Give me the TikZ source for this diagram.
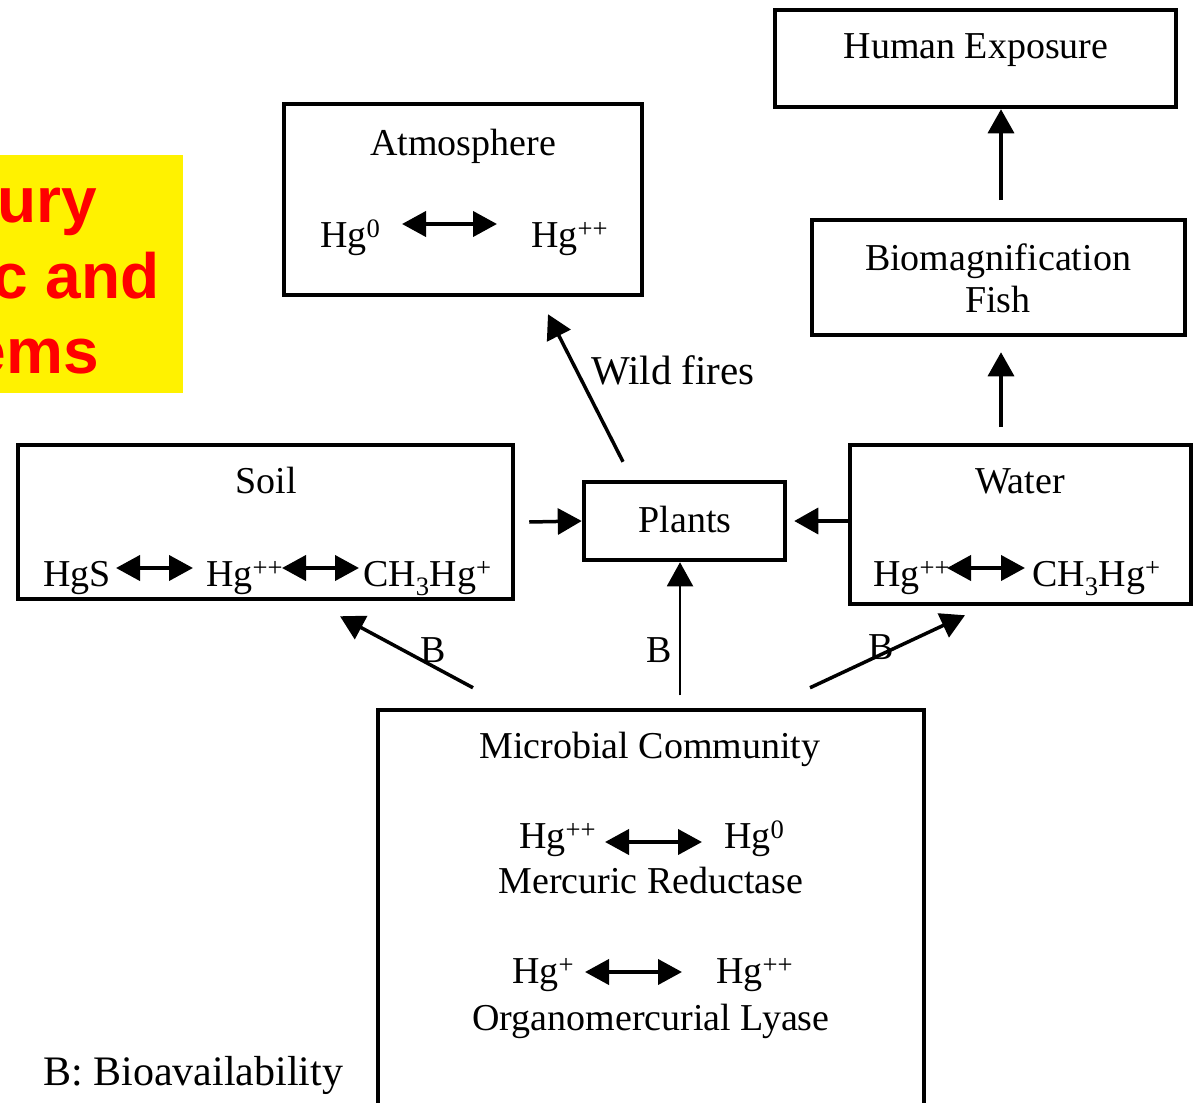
\documentclass[tikz,border=0pt]{standalone}
\usepackage{fontspec}
\setmainfont{Liberation Serif}
\newfontfamily\titlefont{Liberation Sans}
\usetikzlibrary{arrows.meta}
\begin{document}
\begin{tikzpicture}[x=1pt,y=-1pt,
  box/.style={draw, line width=4.5pt, inner sep=0pt},
  lbl/.style={font=\rmfamily\fontsize{38}{42}\selectfont, inner sep=0pt, anchor=base},
  spc/.style={lbl, anchor=base west},
  ttl/.style={font=\titlefont\bfseries\fontsize{64}{70}\selectfont, text=red, inner sep=0pt, anchor=base east},
  conn/.style={line width=3.5pt, -{Triangle[length=24pt,width=26pt]}},
  thinconn/.style={line width=2pt, -{Triangle[length=24pt,width=26pt]}},
  dbl/.style={line width=4pt, {Triangle[length=24pt,width=25pt]}-{Triangle[length=24pt,width=25pt]}}
]
\clip (0,0) rectangle (1195,1103);
\fill[white] (0,0) rectangle (1195,1103);

% title fragment
\fill[yellow] (0,155) rectangle (183,393);
\node[ttl] (t1) at (97,222) {ury};
\node[ttl] (t2) at (160,298) {c and};
\node[ttl] (t3) at (99,373) {ems};

% boxes
\node[box, minimum width=401pt, minimum height=97pt] (human) at (975.5,58.5) {};
\node[box, minimum width=358pt, minimum height=191pt] (atmo) at (463,199.5) {};
\node[box, minimum width=373pt, minimum height=115pt] (bio) at (998.5,277.5) {};
\node[box, minimum width=495pt, minimum height=154pt] (soil) at (265.5,522) {};
\node[box, minimum width=201pt, minimum height=78pt] (plants) at (684.5,521) {};
\node[box, minimum width=341pt, minimum height=159pt] (water) at (1020.5,524.5) {};
\node[box, minimum width=546pt, minimum height=420pt] (micro) at (651,920) {};

% texts
\node[lbl] (humant) at (976,58) {Human Exposure};
\node[lbl] (atmot) at (463,155) {Atmosphere};
\node[spc] (a1) at (320,247) {Hg\textsuperscript{0}};
\node[spc] (a2) at (531,247) {Hg\textsuperscript{++}};
\coordinate (a1r) at (402,224);
\coordinate (a2l) at (497,224);
\draw[dbl] (a1r) -- (a2l);

\node[lbl] (biot) at (998,270) {Biomagnification};
\node[lbl] (fisht) at (998,312) {Fish};

\node[lbl] (soilt) at (266,493) {Soil};
\node[spc] (s1) at (43,586) {HgS};
\node[spc] (s2) at (206,586) {Hg\textsuperscript{++}};
\node[spc] (s3) at (363,586) {CH\textsubscript{3}Hg\textsuperscript{+}};
\coordinate (s1r) at (116,568);
\coordinate (s2l) at (193,568);
\coordinate (s2r) at (282,568);
\coordinate (s3l) at (359,568);
\draw[dbl] (s1r) -- (s2l);
\draw[dbl] (s2r) -- (s3l);

\node[lbl] (plantst) at (685,532) {Plants};

\node[lbl] (watert) at (1020,493) {Water};
\node[spc] (w1) at (873,586) {Hg\textsuperscript{++}};
\node[spc] (w2) at (1032,586) {CH\textsubscript{3}Hg\textsuperscript{+}};
\coordinate (w1r) at (947,568);
\coordinate (w2l) at (1025,568);
\draw[dbl] (w1r) -- (w2l);

\node[lbl] (microt) at (650,758) {Microbial Community};
\node[spc] (m1) at (519,848) {Hg\textsuperscript{++}};
\node[spc] (m2) at (724,848) {Hg\textsuperscript{0}};
\coordinate (m1r) at (605,842);
\coordinate (m2l) at (702,842);
\draw[dbl] (m1r) -- (m2l);
\node[lbl] (mrt) at (651,893) {Mercuric Reductase};
\node[spc] (m3) at (512,983) {Hg\textsuperscript{+}};
\node[spc] (m4) at (716,983) {Hg\textsuperscript{++}};
\coordinate (m3r) at (585,972);
\coordinate (m4l) at (682,972);
\draw[dbl] (m3r) -- (m4l);
\node[lbl] (olt) at (651,1030) {Organomercurial Lyase};

\node[lbl, anchor=base west, font=\rmfamily\fontsize{42}{46}\selectfont] (legend) at (43,1085) {B: Bioavailability};

% connectors
\coordinate (fishtop) at (1001,200);
\coordinate (watertop) at (1001,427);
\draw[conn] (fishtop) -- (human.south -| fishtop);
\draw[conn] (watertop) -- ([yshift=-15pt]bio.south -| watertop);
\draw[conn] ([shift={(-61.5pt,18pt)}]plants.north) -- ([shift={(85pt,-17pt)}]atmo.south);
\node[lbl, anchor=base west, font=\rmfamily\fontsize{41}{45}\selectfont] (wf) at (591,384) {Wild fires};
\draw[conn] ([xshift=14pt]soil.east) -- (plants.west);
\draw[conn] (water.west |- plants.east) -- ([xshift=7pt]plants.east);

\draw[conn] ([shift={(-178pt,20pt)}]micro.north) -- ([shift={(74.5pt,-15pt)}]soil.south);
\draw[thinconn] ([shift={(-4.5pt,-133pt)}]plants.south) -- ([xshift=-4.5pt]plants.south);
\draw[conn] ([shift={(159pt,20pt)}]micro.north) -- ([shift={(-55.5pt,-9pt)}]water.south);
\node[lbl] (b1) at (433,662) {B};
\node[lbl] (b2) at (659,662) {B};
\node[lbl] (b3) at (881,659) {B};
\end{tikzpicture}
\end{document}
